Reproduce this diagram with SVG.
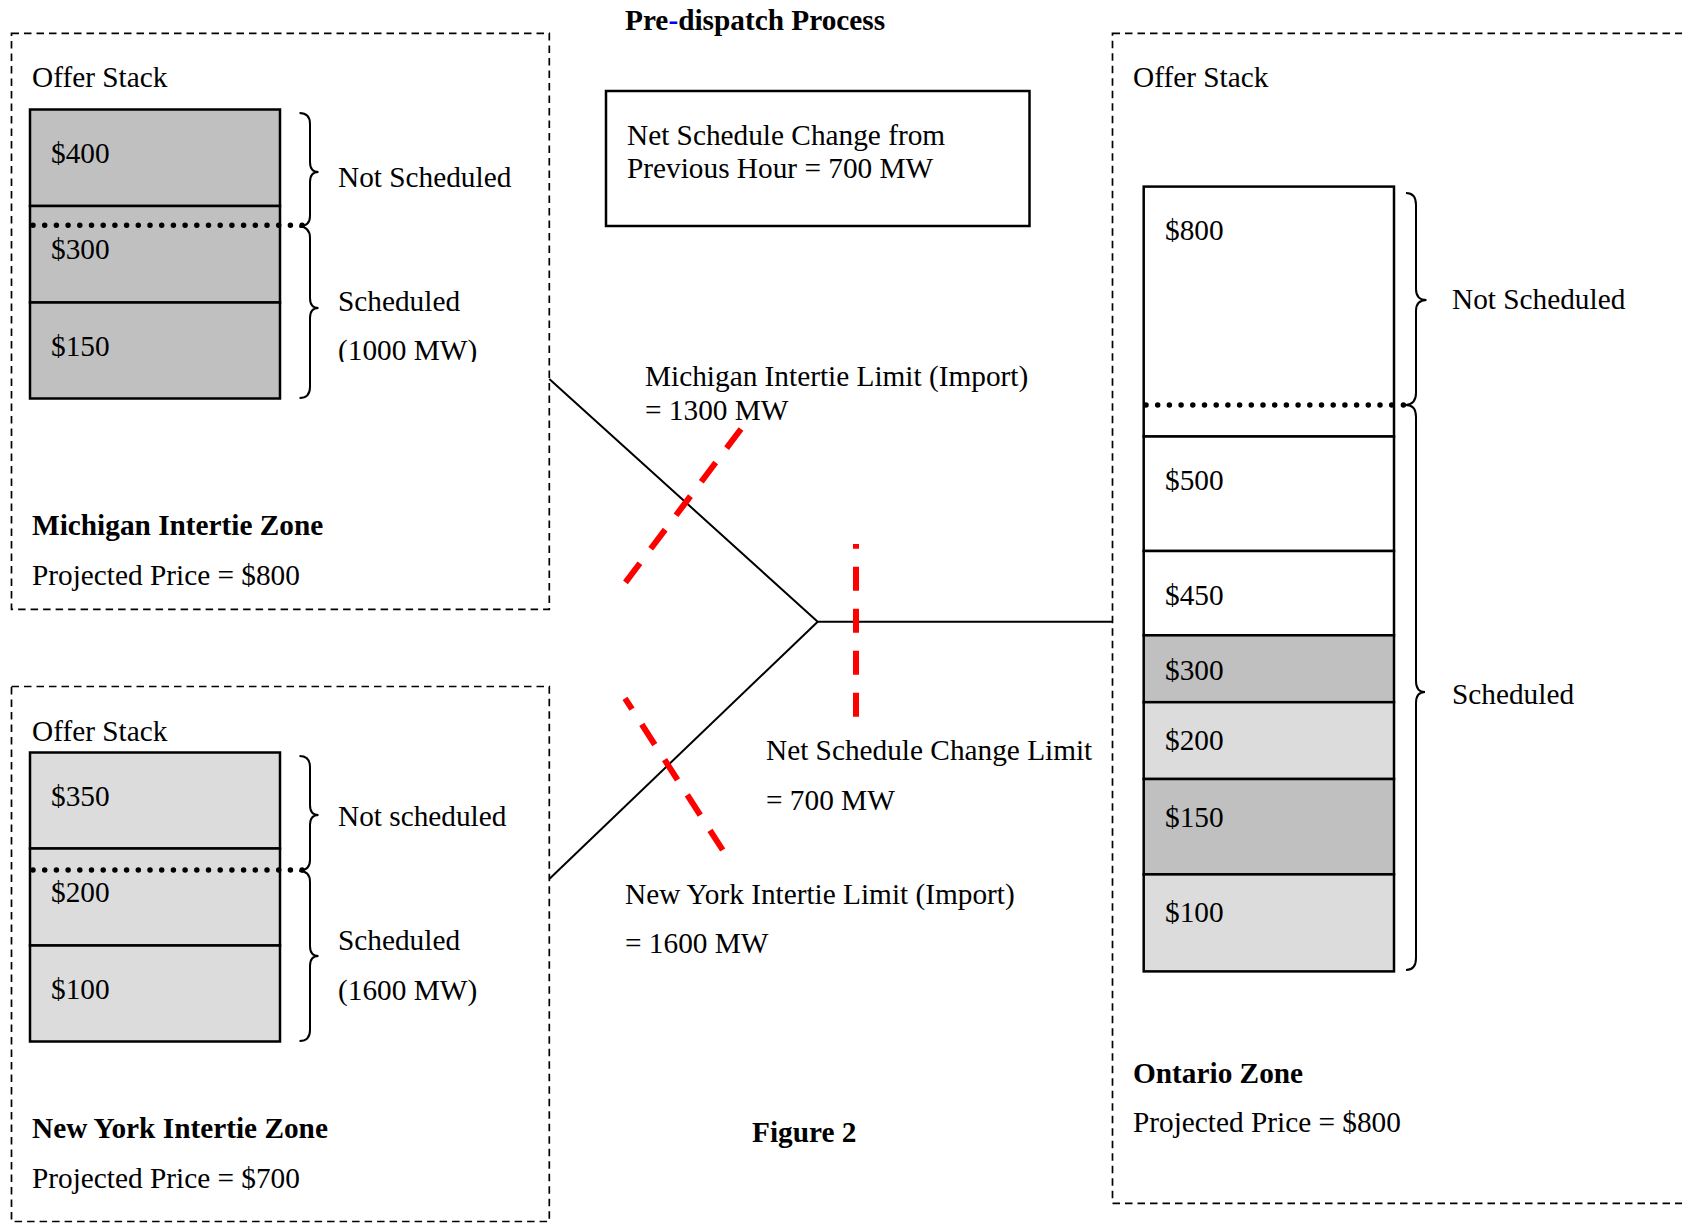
<svg xmlns="http://www.w3.org/2000/svg" width="1682" height="1224" viewBox="0 0 1682 1224">
<style>
text{font-family:"Liberation Serif","Times New Roman",serif;font-size:29.3px;fill:#000}
.b{font-weight:bold}
.zone{fill:none;stroke:#000;stroke-width:1.7;stroke-dasharray:7.5 5}
.cell{stroke:#000;stroke-width:2.5}
.dk{fill:#c0c0c0}
.lt{fill:#dcdcdc}
.wh{fill:#fff}
.dots{fill:none;stroke:#000;stroke-width:5.5;stroke-linecap:round;stroke-dasharray:0 11.7}
.brace{fill:none;stroke:#000;stroke-width:2}
.conn{fill:none;stroke:#000;stroke-width:2}
.red{fill:none;stroke:#ff0000;stroke-width:6;stroke-dasharray:24 18}
.box{fill:#fff;stroke:#000;stroke-width:2.5}
</style>
<defs>
<clipPath id="clip1000"><rect x="330" y="320" width="200" height="42"/></clipPath>
</defs>

<text id="title" class="b" x="625" y="30">Pre<tspan fill="#0000ff">-</tspan>dispatch Process</text>

<g id="michigan-zone">
<rect class="zone" x="11.5" y="33.3" width="537.8" height="576"/>
<text x="32" y="87">Offer Stack</text>
<rect class="cell dk" x="30" y="109.5" width="250" height="96.5"/>
<rect class="cell dk" x="30" y="206" width="250" height="96.5"/>
<rect class="cell dk" x="30" y="302.5" width="250" height="96"/>
<text x="51" y="163">$400</text>
<text x="51" y="259">$300</text>
<text x="51" y="356">$150</text>
<path class="dots" d="M33,225.3 H303"/>
<path class="brace" d="M299.5,113 Q310,113 310,124 L310,162 Q310,172 318.5,172 Q310,172 310,182 L310,216 Q310,226 299.5,226.5"/>
<path class="brace" d="M299.5,226.5 Q310,227 310,238 L310,298 Q310,308 318.5,308 Q310,308 310,318 L310,387 Q310,398 299.5,398"/>
<text x="338" y="187">Not Scheduled</text>
<text x="338" y="311">Scheduled</text>
<text x="338" y="360" clip-path="url(#clip1000)">(1000 MW)</text>
<text class="b" x="32" y="535">Michigan Intertie Zone</text>
<text x="32" y="585">Projected Price = $800</text>
</g>

<g id="newyork-zone">
<rect class="zone" x="11.5" y="686.5" width="537.8" height="535"/>
<text x="32" y="740.5">Offer Stack</text>
<rect class="cell lt" x="30" y="752.5" width="250" height="96"/>
<rect class="cell lt" x="30" y="848.5" width="250" height="97"/>
<rect class="cell lt" x="30" y="945.5" width="250" height="96"/>
<text x="51" y="806">$350</text>
<text x="51" y="902">$200</text>
<text x="51" y="999">$100</text>
<path class="dots" d="M33,870 H303"/>
<path class="brace" d="M299.5,756 Q310,756 310,767 L310,805 Q310,815 318.5,815 Q310,815 310,825 L310,860 Q310,870 299.5,871"/>
<path class="brace" d="M299.5,871 Q310,871 310,882 L310,946 Q310,956 318.5,956 Q310,956 310,966 L310,1030 Q310,1041 299.5,1041"/>
<text x="338" y="826">Not scheduled</text>
<text x="338" y="950">Scheduled</text>
<text x="338" y="1000">(1600 MW)</text>
<text class="b" x="32" y="1138">New York Intertie Zone</text>
<text x="32" y="1188">Projected Price = $700</text>
</g>

<g id="net-schedule-box">
<rect class="box" x="606" y="91" width="423.5" height="135"/>
<text x="627" y="145">Net Schedule Change from</text>
<text x="627" y="178">Previous Hour = 700 MW</text>
</g>

<g id="ontario-zone">
<rect class="zone" x="1112.5" y="33.3" width="600" height="1170"/>
<text x="1133" y="87">Offer Stack</text>
<rect class="cell wh" x="1143.7" y="186.6" width="250.3" height="249.9"/>
<rect class="cell wh" x="1143.7" y="436.5" width="250.3" height="114.5"/>
<rect class="cell wh" x="1143.7" y="551" width="250.3" height="84.3"/>
<rect class="cell dk" x="1143.7" y="635.3" width="250.3" height="66.9"/>
<rect class="cell lt" x="1143.7" y="702.2" width="250.3" height="76.8"/>
<rect class="cell dk" x="1143.7" y="779" width="250.3" height="95.4"/>
<rect class="cell lt" x="1143.7" y="874.4" width="250.3" height="97"/>
<text x="1165" y="240">$800</text>
<text x="1165" y="490">$500</text>
<text x="1165" y="605">$450</text>
<text x="1165" y="680">$300</text>
<text x="1165" y="750">$200</text>
<text x="1165" y="827">$150</text>
<text x="1165" y="922">$100</text>
<path class="dots" d="M1146,405 H1415"/>
<path class="brace" d="M1406,193 Q1416,193 1416,205 L1416,289 Q1416,300 1426.5,300 Q1416,300 1416,311 L1416,393 Q1416,404 1406,405"/>
<path class="brace" d="M1406,405 Q1416,405 1416,417 L1416,681 Q1416,692 1425,692 Q1416,692 1416,703 L1416,958 Q1416,970 1406,970"/>
<text x="1452" y="309">Not Scheduled</text>
<text x="1452" y="704">Scheduled</text>
<text class="b" x="1133" y="1083">Ontario Zone</text>
<text x="1133" y="1132">Projected Price = $800</text>
</g>

<g id="connectors">
<path class="conn" d="M549.3,379 L817.7,621.7 L1112.5,621.7"/>
<path class="conn" d="M549.3,879 L817.7,621.7"/>
</g>

<g id="limits">
<path class="red" d="M741,429 L625,583"/>
<path class="red" d="M856,544 V717" stroke-dashoffset="19.3"/>
<path class="red" d="M625,698.3 L722.7,850" stroke-dashoffset="11"/>
<text x="645" y="386">Michigan Intertie Limit (Import)</text>
<text x="645" y="420">= 1300 MW</text>
<text x="766" y="760">Net Schedule Change Limit</text>
<text x="766" y="810">= 700 MW</text>
<text x="625" y="904">New York Intertie Limit (Import)</text>
<text x="625" y="953">= 1600 MW</text>
</g>

<text id="caption" class="b" x="752" y="1142">Figure 2</text>
</svg>
